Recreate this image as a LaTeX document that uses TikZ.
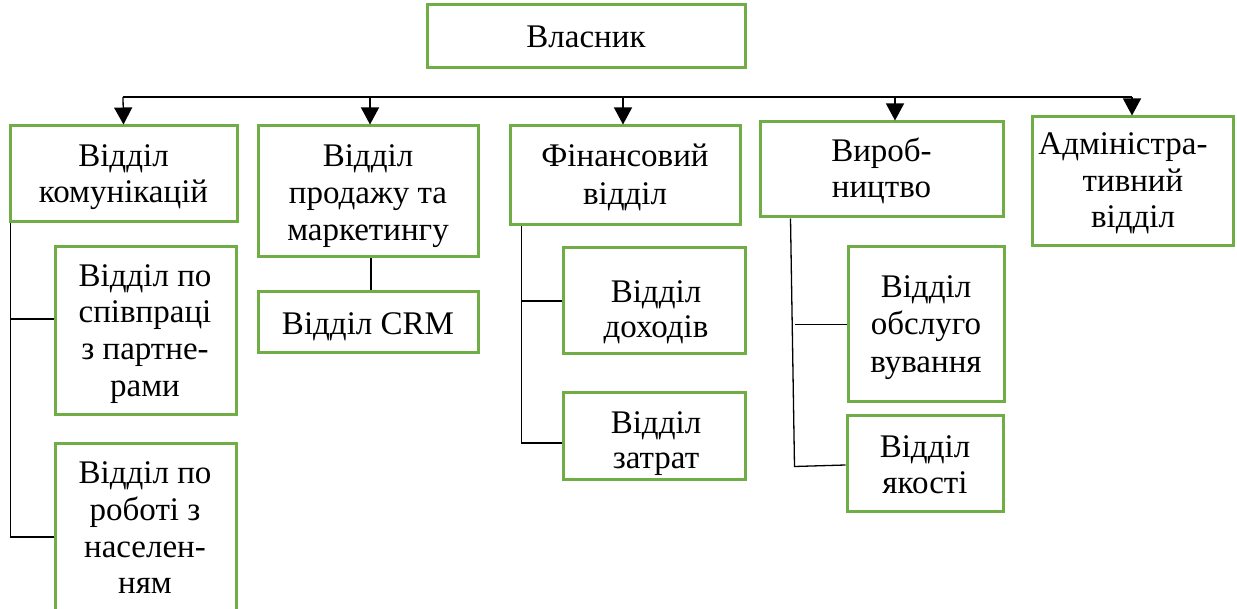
\documentclass[tikz,border=0pt]{standalone}
\usepackage{fontspec}
\setmainfont{Liberation Serif}
\usetikzlibrary{arrows.meta,calc}
\definecolor{grn}{HTML}{70AD47}
\tikzset{
  box/.style={draw=grn, line width=3pt, inner sep=0pt, fill=white},
  txt/.style={anchor=base, inner sep=0pt, font=\rmfamily\fontsize{33}{37}\selectfont},
  conn/.style={line width=1.3pt, draw=black},
  arr/.style={conn, -{Triangle[width=18pt,length=17pt]}}
}
\begin{document}
\begin{tikzpicture}[x=1pt,y=-1pt]
\useasboundingbox (0,0) rectangle (1237,609);
\clip (0,0) rectangle (1237,609);
% boxes
\node[box, minimum width=318pt, minimum height=63pt] (own) at (586,36.5) {};
\node[box, minimum width=227pt, minimum height=96pt] (b1) at (123.5,174) {};
\node[box, minimum width=220pt, minimum height=131pt] (b2) at (368,191.5) {};
\node[box, minimum width=230pt, minimum height=99pt] (b3) at (625,175.5) {};
\node[box, minimum width=243pt, minimum height=95pt] (b4) at (881.5,169.5) {};
\node[box, minimum width=201pt, minimum height=129pt] (b5) at (1132.5,181.5) {};
\node[box, minimum width=220pt, minimum height=61pt] (crm) at (368,322.5) {};
\node[box, minimum width=181pt, minimum height=168pt] (s1a) at (145.5,331) {};
\node[box, minimum width=181pt, minimum height=197pt] (s1b) at (145.5,541.5) {};
\node[box, minimum width=182pt, minimum height=106pt] (s3a) at (654,301) {};
\node[box, minimum width=182pt, minimum height=86pt] (s3b) at (654,436) {};
\node[box, minimum width=156pt, minimum height=155pt] (s4a) at (926,324.5) {};
\node[box, minimum width=156pt, minimum height=95pt] (s4b) at (925,463.5) {};
% connectors
\coordinate (busl) at (123,97);
\coordinate (busr) at (1132,97);
\draw[conn] (busl) -- (busr);
\draw[arr] (busl) -- (b1.north);
\draw[arr] ($(b2.north |- busl)+(2,0)$) -- ($(b2.north)+(2,0)$);
\draw[arr] ($(b3.north |- busl)+(-2,0)$) -- ($(b3.north)+(-2,0)$);
\draw[arr] ($(b4.north |- busl)+(13.5,0)$) -- ($(b4.north)+(13.5,0)$);
\draw[arr] (busr) -- ($(b5.north)+(-0.5,0)$);
\draw[conn] ([xshift=3pt]b2.south) -- ([xshift=3pt]crm.north);
\draw[conn] ([xshift=2pt]b1.south west) |- ([yshift=4.5pt]s1b.west);
\draw[conn] ([yshift=12pt]s1a.west) -- +(-43,0);
\draw[conn] ([xshift=13pt]b3.south west) |- ([yshift=-7pt]s3b.west);
\draw[conn] (s3a.west) -- +(-40,0);
\draw[conn] ([xshift=32pt]b4.south west) -- ++(4,248) -- ([yshift=-1.5pt]s4b.west);
\draw[conn] (s4a.west) -- +(-52,0);
% texts
\node[txt] (t0) at (586,48) {Власник};
\node[txt] (t1a) at (123.5,167) {Відділ};
\node[txt] (t1b) at (123.5,203) {комунікацій};
\node[txt] (t2a) at (368,167) {Відділ};
\node[txt] (t2b) at (368,204) {продажу та};
\node[txt] (t2c) at (368,241) {маркетингу};
\node[txt] (t3a) at (625,167) {Фінансовий};
\node[txt] (t3b) at (625,205) {відділ};
\node[txt] (t4a) at (881.5,162) {Вироб-};
\node[txt] (t4b) at (881.5,198) {ництво};
\node[txt] (t5a) at (1123,155) {Адміністра-};
\node[txt] (t5b) at (1133,192) {тивний};
\node[txt] (t5c) at (1133,228) {відділ};
\node[txt] (tc) at (368,335) {Відділ CRM};
\node[txt] (ta1) at (145,287) {Відділ по};
\node[txt] (ta2) at (145,323) {співпраці};
\node[txt] (ta3) at (145,360) {з партне-};
\node[txt] (ta4) at (145,397) {рами};
\node[txt] (tb1) at (145,483) {Відділ по};
\node[txt] (tb2) at (145,520) {роботі з};
\node[txt] (tb3) at (145,557) {населен-};
\node[txt] (tb4) at (145,593) {ням};
\node[txt] (td1) at (656,303) {Відділ};
\node[txt] (td2) at (656,338) {доходів};
\node[txt] (te1) at (656,433) {Відділ};
\node[txt] (te2) at (656,468) {затрат};
\node[txt] (tf1) at (926,298) {Відділ};
\node[txt] (tf2) at (926,335) {обслуго};
\node[txt] (tf3) at (926,373) {вування};
\node[txt] (tg1) at (925,457) {Відділ};
\node[txt] (tg2) at (925,493) {якості};
\end{tikzpicture}
\end{document}
